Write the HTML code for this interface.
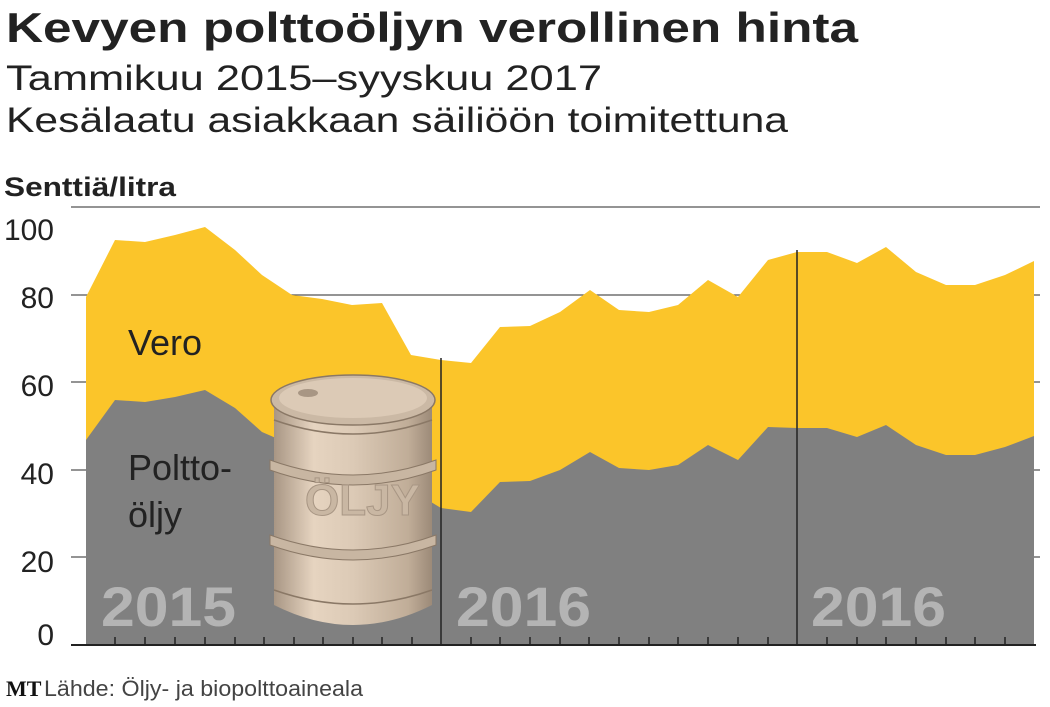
<!DOCTYPE html>
<html><head><meta charset="utf-8"><style>
body{margin:0;background:#fff;width:1050px;height:702px;overflow:hidden;font-family:"Liberation Sans",sans-serif}
</style></head><body>
<svg width="1050" height="702" viewBox="0 0 1050 702" xmlns="http://www.w3.org/2000/svg">
<defs>
<linearGradient id="bg" x1="0" x2="1" y1="0" y2="0">
<stop offset="0" stop-color="#a89684"/><stop offset="0.25" stop-color="#e6d4c0"/><stop offset="0.5" stop-color="#dccab6"/><stop offset="0.85" stop-color="#c0ad98"/><stop offset="1" stop-color="#9c8a78"/>
</linearGradient>
</defs>
<text x="6" y="42" font-size="42" font-weight="bold" fill="#222" textLength="852" lengthAdjust="spacingAndGlyphs">Kevyen polttoöljyn verollinen hinta</text>
<text x="6" y="90" font-size="35" fill="#222" textLength="596" lengthAdjust="spacingAndGlyphs">Tammikuu 2015–syyskuu 2017</text>
<text x="6" y="132" font-size="35" fill="#222" textLength="782" lengthAdjust="spacingAndGlyphs">Kesälaatu asiakkaan säiliöön toimitettuna</text>
<text x="4" y="196" font-size="27" font-weight="bold" fill="#222" textLength="172" lengthAdjust="spacingAndGlyphs">Senttiä/litra</text>
<g stroke="#555" stroke-width="1.3">
<line x1="71" y1="207" x2="1040" y2="207"/><line x1="71" y1="295" x2="1040" y2="295"/><line x1="71" y1="382" x2="1040" y2="382"/><line x1="71" y1="470" x2="1040" y2="470"/><line x1="71" y1="557" x2="1040" y2="557"/>
</g>
<g font-size="30" fill="#222" text-anchor="end">
<text x="54" y="240">100</text><text x="54" y="308">80</text><text x="54" y="396">60</text><text x="54" y="484">40</text><text x="54" y="572">20</text><text x="54" y="645">0</text>
</g>
<polygon fill="#fbc52a" points="86,645 86,297 115,240 145,242 175,235 205,227 235,250 262,275 292,295 322,299 352,305 382,303 411,355 441,360 471,363 500,327 530,326 560,312 590,290 619,310 649,312 678,305 708,280 738,297 768,260 797,252 827,252 857,263 886,247 916,272 946,285 975,285 1005,275 1034,261 1034,645"/>
<polygon fill="#808080" points="86,645 86,440 115,400 145,402 175,397 205,390 235,408 262,432 292,445 322,452 352,458 382,470 411,490 441,508 471,512 500,482 530,481 560,470 590,452 619,468 649,470 678,465 708,445 738,460 768,427 797,428 827,428 857,437 886,425 916,445 946,455 975,455 1005,447 1034,436 1034,645"/>
<g stroke="#222" stroke-width="1.5"><line x1="441" y1="358" x2="441" y2="645"/><line x1="797" y1="250" x2="797" y2="645"/></g>
<line x1="71" y1="645" x2="1036" y2="645" stroke="#222" stroke-width="2"/>
<path stroke="#222" stroke-width="1.5" d="M115,645v-8M145,645v-8M175,645v-8M205,645v-8M235,645v-8M264,645v-8M294,645v-8M323,645v-8M353,645v-8M382,645v-8M412,645v-8M471,645v-8M500,645v-8M530,645v-8M560,645v-8M589,645v-8M619,645v-8M649,645v-8M678,645v-8M708,645v-8M738,645v-8M768,645v-8M827,645v-8M857,645v-8M886,645v-8M916,645v-8M946,645v-8M975,645v-8M1005,645v-8"/>
<g font-size="56" font-weight="bold" fill="#b4b4b4">
<text x="101" y="626" textLength="135" lengthAdjust="spacingAndGlyphs">2015</text><text x="456" y="626" textLength="135" lengthAdjust="spacingAndGlyphs">2016</text><text x="811" y="626" textLength="135" lengthAdjust="spacingAndGlyphs">2016</text>
</g>
<text x="128" y="355" font-size="36" fill="#222">Vero</text>
<text x="128" y="480" font-size="36" fill="#222">Poltto-</text>
<text x="128" y="527" font-size="36" fill="#222">öljy</text>
<g>
<path d="M274,400 L274,605 Q353,645 432,605 L432,400 Z" fill="url(#bg)"/>
<ellipse cx="353" cy="400" rx="82" ry="25" fill="#cbb9a5" stroke="#8a7866" stroke-width="1.5"/>
<ellipse cx="353" cy="398" rx="74" ry="20" fill="#dccab6"/>
<ellipse cx="308" cy="393" rx="10" ry="4" fill="#a89684"/>
<path d="M270,460 Q353,490 436,460 L436,470 Q353,500 270,470 Z" fill="#c8b6a2" stroke="#8a7866"/>
<path d="M270,535 Q353,565 436,535 L436,545 Q353,575 270,545 Z" fill="#c8b6a2" stroke="#8a7866"/>
<path d="M274,420 Q353,448 432,420" fill="none" stroke="#8a7866" stroke-width="1.5"/>
<path d="M274,590 Q353,618 432,590" fill="none" stroke="#8a7866" stroke-width="1.5"/>
<text x="305" y="515" font-size="44" font-weight="bold" fill="#c9b7a3" stroke="#a89684" stroke-width="1">ÖLJY</text>
</g>
<text x="6" y="696" font-size="22" font-weight="bold" font-family="Liberation Serif,serif" fill="#111">MT</text>
<text x="44" y="696" font-size="22" fill="#444" textLength="319" lengthAdjust="spacingAndGlyphs">Lähde: Öljy- ja biopolttoaineala</text>
</svg>
</body></html>
